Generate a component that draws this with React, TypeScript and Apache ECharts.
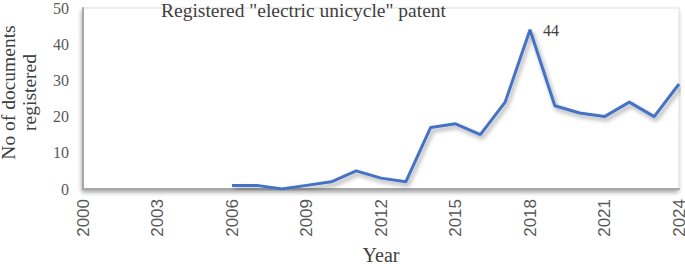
import React, { useEffect, useRef } from "react";
import * as echarts from "echarts";

const years = [2006, 2007, 2008, 2009, 2010, 2011, 2012, 2013, 2014, 2015, 2016, 2017, 2018, 2019, 2020, 2021, 2022, 2023, 2024];
const counts = [1, 1, 0, 1, 2, 5, 3, 2, 17, 18, 15, 24, 44, 23, 21, 20, 24, 20, 29];
const labelledYear = 2018;
const titleText = 'Registered "electric unicycle" patent';
const xName = "Year";
const yName = "No of documents\nregistered";

export default function App() {
  const ref = useRef<HTMLDivElement>(null);
  useEffect(() => {
    if (!ref.current) return;
    const chart = echarts.init(ref.current, null, { renderer: "svg" });
    const data = years.map((y, i) => {
      const item: any = { value: [y, counts[i]] };
      if (y === labelledYear) {
        item.label = {
          show: true,
          position: "right",
          distance: 13,
          offset: [0, 1],
          formatter: String(counts[i]),
          fontFamily: "Liberation Sans Narrow",
          fontSize: 16,
          color: "#404040",
        };
      }
      return item;
    });
    chart.setOption({
      animation: false,
      backgroundColor: "#fff",
      title: {
        text: titleText,
        left: 161,
        top: 0,
        padding: 0,
        textStyle: { fontFamily: "Liberation Serif", fontSize: 19.5, fontWeight: "normal", color: "#404040" },
      },
      grid: {
        left: 83,
        right: 6,
        top: 8,
        bottom: 75,
        outerBoundsMode: "none",
        containLabel: false,
        show: true,
        backgroundColor: "#fff",
        borderColor: "#e0e0e0",
        borderWidth: 1,
        shadowColor: "rgba(0,0,0,0.35)",
        shadowBlur: 4,
        shadowOffsetX: -1,
        shadowOffsetY: 3,
      },
      xAxis: {
        type: "value",
        min: 2000,
        max: 2024,
        interval: 3,
        name: xName,
        nameLocation: "middle",
        nameGap: 57,
        nameTextStyle: { fontFamily: "Liberation Serif", fontSize: 20, color: "#404040", lineHeight: 18 },
        axisLine: { show: true, lineStyle: { color: "#a6a6a6", width: 2 } },
        axisTick: { show: false },
        splitLine: { show: false },
        axisLabel: {
          rotate: 90,
          margin: 10,
          fontFamily: "Liberation Sans",
          fontSize: 17,
          color: "#595959",
          formatter: (v: number) => String(v),
        },
      },
      yAxis: {
        type: "value",
        min: 0,
        max: 50,
        interval: 10,
        name: yName,
        nameLocation: "middle",
        nameGap: 43,
        nameTextStyle: {
          fontFamily: "Liberation Serif",
          fontSize: 19.5,
          color: "#404040",
          lineHeight: 21,
          padding: [0, 0, 0, 12],
        },
        axisLine: { show: true, lineStyle: { color: "#a6a6a6", width: 2 } },
        axisTick: { show: false },
        splitLine: { show: false },
        axisLabel: {
          margin: 14,
          fontFamily: "Liberation Sans Narrow",
          fontSize: 16,
          color: "#595959",
        },
      },
      series: [
        {
          type: "line",
          data,
          symbol: "circle",
          symbolSize: 0,
          showSymbol: true,
          lineStyle: {
            color: "#4472C4",
            width: 3,
            shadowColor: "rgba(0,0,0,0.35)",
            shadowBlur: 4,
            shadowOffsetX: 2,
            shadowOffsetY: 3,
          },
          itemStyle: { color: "#4472C4" },
        },
      ],
    });
    return () => chart.dispose();
  }, []);
  return <div ref={ref} style={{ width: 685, height: 264, position: "absolute", left: 0, top: 0 }} />;
}
